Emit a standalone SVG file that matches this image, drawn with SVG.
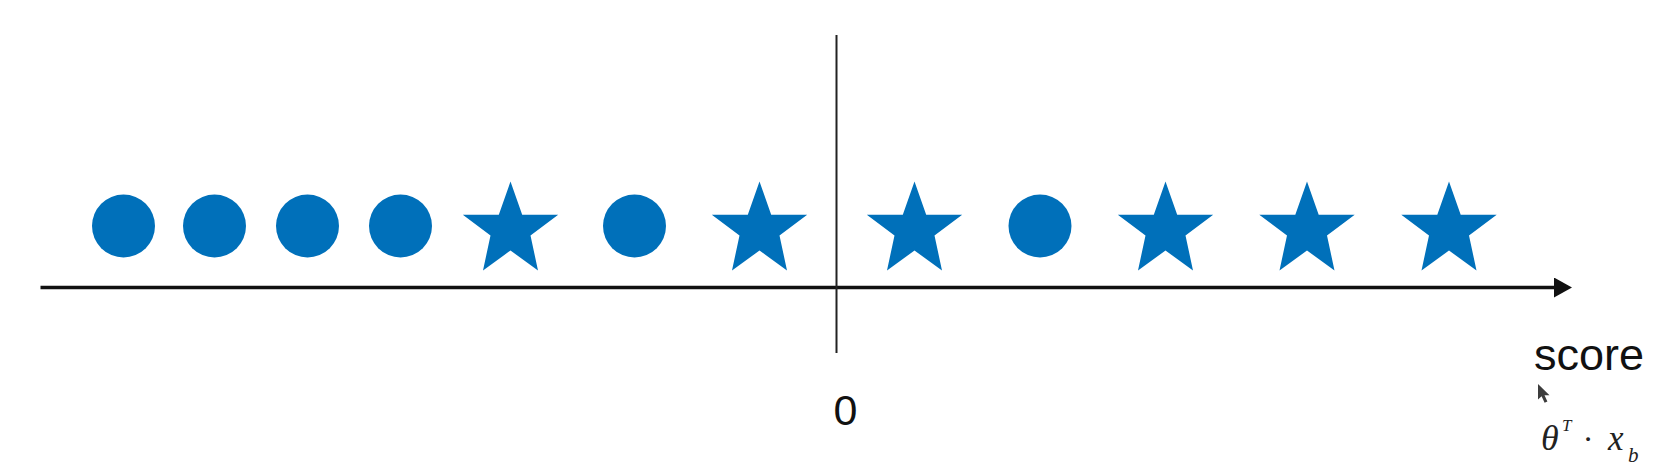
<svg xmlns="http://www.w3.org/2000/svg" width="1676" height="471" viewBox="0 0 1676 471">
  <style>
    .dot { fill: #0070BA; }
    .star { fill: #0070BA; }
    .axis { stroke: #111; stroke-width: 3.5; fill: none; }
    .vline { stroke: #222; stroke-width: 2; fill: none; }
    .lbl { font-family: "Liberation Sans", Arial, sans-serif; fill: #111; }
    .math { font-family: "Liberation Serif", "Times New Roman", serif; font-style: italic; fill: #222; }
  </style>
  <defs>
    <path id="starShape" d="M0,-49 L11.7,-15.7 L47.7,-15.7 L20,5 L27.5,40 L0,20 L-27.5,40 L-20,5 L-47.7,-15.7 L-11.7,-15.7 Z"/>
    <marker id="arrow" markerUnits="userSpaceOnUse" markerWidth="20" markerHeight="22" refX="1" refY="10" orient="auto">
      <path d="M0,0 L18,10 L0,20 Z" fill="#111"/>
    </marker>
  </defs>
  <rect width="1676" height="471" fill="#ffffff"/>

  <g id="connectors">
    <line class="axis" x1="40.5" y1="287.5" x2="1555" y2="287.5" marker-end="url(#arrow)"/>
    <line class="vline" x1="836.5" y1="35" x2="836.5" y2="353"/>
  </g>

  <g id="c1"><circle class="dot" cx="123.5" cy="226" r="31.5"/></g>
  <g id="c2"><circle class="dot" cx="214.5" cy="226" r="31.5"/></g>
  <g id="c3"><circle class="dot" cx="307.5" cy="226" r="31.5"/></g>
  <g id="c4"><circle class="dot" cx="400.5" cy="226" r="31.5"/></g>
  <g id="s1"><use href="#starShape" class="star" transform="translate(510.5,230.5)"/></g>
  <g id="c5"><circle class="dot" cx="634.5" cy="226" r="31.5"/></g>
  <g id="s2"><use href="#starShape" class="star" transform="translate(759.5,230.5)"/></g>
  <g id="s3"><use href="#starShape" class="star" transform="translate(914.5,230.5)"/></g>
  <g id="c6"><circle class="dot" cx="1040" cy="226" r="31.5"/></g>
  <g id="s4"><use href="#starShape" class="star" transform="translate(1165.5,230.5)"/></g>
  <g id="s5"><use href="#starShape" class="star" transform="translate(1307,230.5)"/></g>
  <g id="s6"><use href="#starShape" class="star" transform="translate(1449,230.5)"/></g>

  <g id="zero-label"><text class="lbl" x="845.5" y="425" font-size="43" text-anchor="middle">0</text></g>
  <g id="score-label"><text class="lbl" x="1534" y="369.5" font-size="45">score</text></g>
  <g id="cursor"><path d="M1538,384 L1538,399.5 L1541.6,396.2 L1544.6,402.8 L1547.4,401.6 L1544.5,395.2 L1549.5,395.2 Z" fill="#1a1a1a" opacity="0.85"/></g>
  <g id="formula">
    <text class="math" x="1541" y="450" font-size="36">θ</text>
    <text class="math" x="1562" y="431" font-size="17">T</text>
    <text x="1588" y="450" font-size="32" text-anchor="middle" font-family="'Liberation Serif', serif" fill="#222">·</text>
    <text class="math" x="1608" y="450" font-size="35">x</text>
    <text class="math" x="1628" y="462" font-size="21">b</text>
  </g>
</svg>
